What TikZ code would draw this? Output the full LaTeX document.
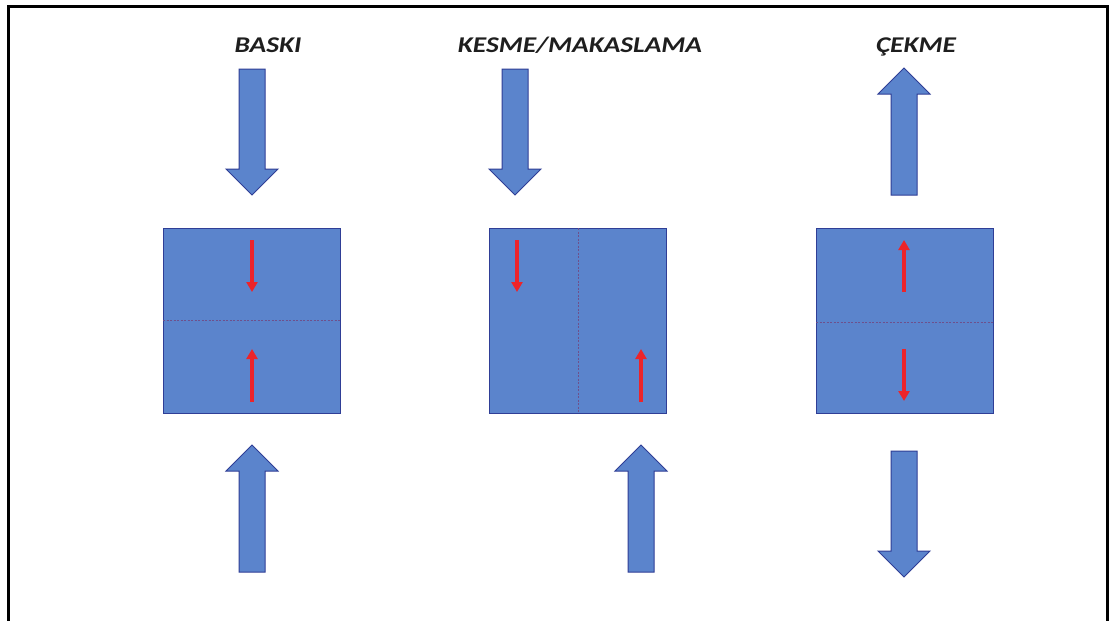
\documentclass[tikz,border=0pt]{standalone}
\usepackage{fontspec}
\newfontfamily\carlito{Carlito}
\usetikzlibrary{arrows.meta}

\definecolor{blockfill}{RGB}{91,132,204}
\definecolor{blockedge}{RGB}{47,62,150}
\definecolor{splitline}{RGB}{110,80,140}
\definecolor{stressred}{RGB}{236,36,42}
\definecolor{titlegray}{RGB}{30,30,30}

\tikzset{
  block/.style={draw=blockedge, fill=blockfill, line width=1pt,
    minimum width=177pt, minimum height=185pt, inner sep=0pt, outer sep=0pt},
  bigarrow/.style={draw=blockedge, fill=blockfill, line width=1pt, line join=miter},
  split/.style={draw=splitline, line width=0.6pt, dash pattern=on 2pt off 1.5pt},
  stress/.style={draw=stressred, line width=3.4pt,
    -{Triangle[width=11pt,length=10pt]}},
  title/.style={font=\carlito\fontsize{22.5}{26}\selectfont\bfseries\itshape,
    text=titlegray, anchor=base, inner sep=0pt, xscale=1.22},
}

% block arrow: #1 = x, #2 = tail y, #3 = tip y (y grows downwards)
\newcommand{\fatarrow}[3]{%
  \pgfmathsetmacro\headbase{#3 + ((#3 > #2) ? -26 : 26)}%
  \draw[bigarrow] (#1-13,#2) -- (#1+13,#2) -- (#1+13,\headbase) -- (#1+26,\headbase)
    -- (#1,#3) -- (#1-26,\headbase) -- (#1-13,\headbase) -- cycle;}

\begin{document}
\begin{tikzpicture}[x=1pt, y=-1pt]
  \useasboundingbox (0,0) rectangle (1109,621);
  \fill[white] (0,0) rectangle (1109,621);

  % outer frame, open at the bottom
  \draw[line width=3pt, line join=miter] (8.5,640) -- (8.5,6.5) -- (1107.5,6.5) -- (1107.5,640);

  % titles
  \node[title] (t1) at (268,52) {BASKI};
  \node[title] (t2) at (580,52) {KESME/MAKASLAMA};
  \node[title] (t3) at (916,52) {ÇEKME};

  % loaded specimens
  \node[block] (b1) at (251.5,320.5) {};
  \node[block] (b2) at (578,320.5) {};
  \node[block] (b3) at (904.5,320.5) {};

  % fracture / shear planes
  \draw[split] (b1.west) -- (b1.east);
  \draw[split] (b2.north) -- (b2.south);
  \draw[split] ([yshift=-1.5pt]b3.west) -- ([yshift=-1.5pt]b3.east);

  % internal stresses
  \draw[stress] (252,240) -- (252,292);
  \draw[stress] (252,402) -- (252,349);
  \draw[stress] (517,240) -- (517,292);
  \draw[stress] (641,402) -- (641,349);
  \draw[stress] (904,292) -- (904,240);
  \draw[stress] (904,349) -- (904,401);

  % external loads
  \fatarrow{252}{69}{195}
  \fatarrow{252}{572}{445}
  \fatarrow{515}{69}{195}
  \fatarrow{641}{572}{445}
  \fatarrow{904}{195}{68}
  \fatarrow{904}{451}{577}
\end{tikzpicture}
\end{document}
